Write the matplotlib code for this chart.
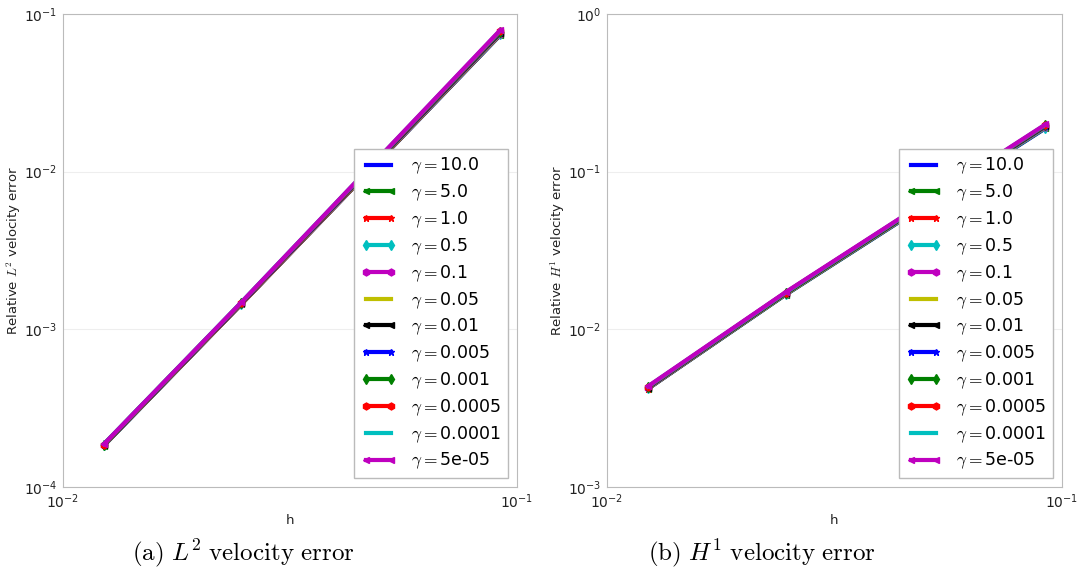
import numpy as np
from matplotlib import pyplot as plt

plt.rcParams['mathtext.fontset'] = 'cm'
plt.rcParams['font.family'] = 'DejaVu Sans'

gammas = ['10.0', '5.0', '1.0', '0.5', '0.1', '0.05', '0.01', '0.005', '0.001', '0.0005', '0.0001', '5e-05']
h = [0.0123, 0.0247, 0.092]

# relative L2 velocity error, one row per gamma
l2_err = [
    [1.83e-4, 1.44e-3, 0.0735],
    [1.83e-4, 1.44e-3, 0.0737],
    [1.84e-4, 1.44e-3, 0.0740],
    [1.84e-4, 1.45e-3, 0.0742],
    [1.85e-4, 1.45e-3, 0.0748],
    [1.85e-4, 1.45e-3, 0.0752],
    [1.85e-4, 1.46e-3, 0.0760],
    [1.86e-4, 1.46e-3, 0.0765],
    [1.86e-4, 1.47e-3, 0.0772],
    [1.86e-4, 1.47e-3, 0.0778],
    [1.87e-4, 1.48e-3, 0.0785],
    [1.87e-4, 1.48e-3, 0.0790],
]

# relative H1 velocity error
h1_err = [
    [4.20e-3, 0.0166, 0.188],
    [4.20e-3, 0.0166, 0.189],
    [4.21e-3, 0.0167, 0.190],
    [4.22e-3, 0.0167, 0.190],
    [4.24e-3, 0.0168, 0.192],
    [4.25e-3, 0.0168, 0.193],
    [4.27e-3, 0.0169, 0.194],
    [4.28e-3, 0.0170, 0.195],
    [4.30e-3, 0.0170, 0.196],
    [4.31e-3, 0.0171, 0.197],
    [4.33e-3, 0.0171, 0.198],
    [4.35e-3, 0.0172, 0.199],
]

colors = ['b', 'g', 'r', 'c', 'm', 'y', 'k']
markers = ['', '<', '*', 'd', 'h']

fig = plt.figure(figsize=(10.83, 5.75), dpi=100)
ax1 = fig.add_axes([0.0582, 0.153, 0.419, 0.823])
ax2 = fig.add_axes([0.5605, 0.153, 0.420, 0.823])


def draw(ax, errs, ylim, ylab):
    for i, g in enumerate(gammas):
        ax.loglog(h, errs[i], color=colors[i % 7], marker=markers[i % 5],
                  lw=3, ms=5, mew=1, label=r'$\gamma=$' + g)
    ax.set_xlim(1e-2, 1e-1)
    ax.set_ylim(*ylim)
    ax.minorticks_off()
    ax.tick_params(length=0, labelsize=10, pad=4, colors='#222222')
    ax.grid(axis='y', color='#eeeeee', lw=0.8)
    for s in ax.spines.values():
        s.set_color('#bbbbbb')
    ax.set_xlabel('h', fontsize=9.5, color='#222222', labelpad=2)
    ax.set_ylabel(ylab, fontsize=9.5, color='#222222', labelpad=1)
    leg = ax.legend(loc='lower right', numpoints=2, fontsize=12.5, handlelength=2.0,
                    handletextpad=0.9, labelspacing=0.36, borderpad=0.4,
                    fancybox=False, framealpha=1)
    leg.get_frame().set_edgecolor('#bbbbbb')


draw(ax1, l2_err, (1e-4, 1e-1), r'Relative $L^2$ velocity error')
draw(ax2, h1_err, (1e-3, 1e0), r'Relative $H^1$ velocity error')

fig.text(0.2245, 0.025, r'$\mathrm{(a)}\ L^2\ \mathrm{velocity\ error}$', ha='center', fontsize=18)
fig.text(0.7035, 0.025, r'$\mathrm{(b)}\ H^1\ \mathrm{velocity\ error}$', ha='center', fontsize=18)

fig.savefig('out.png', dpi=100)
